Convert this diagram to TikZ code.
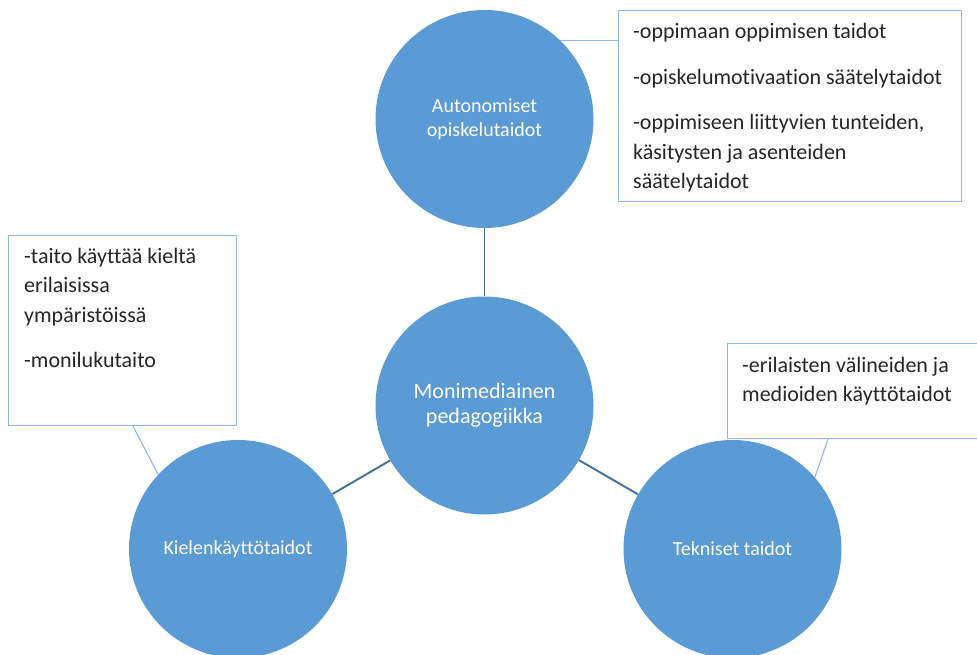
\documentclass[tikz,border=0pt]{standalone}
\usepackage{fontspec}
\setmainfont{Carlito}[Ligatures={NoCommon}]
\usetikzlibrary{calc}
\definecolor{skillfill}{HTML}{5B9BD5}
\definecolor{linkline}{HTML}{41719C}
\definecolor{calloutline}{HTML}{8DB9E3}
\definecolor{bodytext}{HTML}{262626}
\tikzset{
  skill/.style={circle, fill=skillfill, draw=none, minimum size=218pt, inner sep=0pt,
    text=white, align=center, font=\fontsize{20}{24}\selectfont},
  link/.style={draw=linkline, line width=1.9pt},
  notebox/.style={draw=calloutline, line width=1.1pt, fill=white, anchor=north west, inner sep=0pt},
  notetext/.style={anchor=north west, inner sep=0pt, align=left, text=bodytext,
    font=\fontsize{22}{29.5}\selectfont},
  callout/.style={draw=calloutline, line width=1.1pt}
}
\begin{document}
\begin{tikzpicture}[x=1pt, y=-1pt]
  \useasboundingbox (0,0) rectangle (977,655);
  \clip (0,0) rectangle (977,655);
  \fill[white] (0,0) rectangle (977,655);

  % skill circles
  \node[skill] (auto) at (484.5,119) {Autonomiset\\opiskelutaidot};
  \node[skill, font=\fontsize{22}{25}\selectfont] (mono) at (484.5,405.5) {Monimediainen\\pedagogiikka};
  \node[skill] (kieli) at (238,549) {Kielenkäyttötaidot};
  \node[skill] (tekn) at (732.5,549) {Tekniset taidot};

  % links between the centre and the three skills
  \draw[link] (mono) -- (auto);
  \draw[link] (mono) -- (kieli);
  \draw[link] (mono) -- (tekn);

  % note boxes
  \node[notebox, minimum width=343pt, minimum height=191pt] (boxauto) at (618,10) {};
  \node[notebox, minimum width=228pt, minimum height=190pt] (boxkieli) at (8,235) {};
  \node[notebox, minimum width=280pt, minimum height=95pt] (boxtekn) at (727,343) {};

  % note texts
  \node[notetext] (txtauto) at (633,23.5) {-oppimaan oppimisen taidot\\[16pt]
    -opiskelumotivaation säätelytaidot\\[16pt]
    -oppimiseen liittyvien tunteiden,\\
    käsitysten ja asenteiden\\
    säätelytaidot};
  \node[notetext] (txtkieli) at (24,248) {-taito käyttää kieltä\\
    erilaisissa\\
    ympäristöissä\\[16pt]
    -monilukutaito};
  \node[notetext] (txttekn) at (742,357) {-erilaisten välineiden ja\\
    medioiden käyttötaidot};

  % callout lines from circles to their notes
  \draw[callout] (auto.46) -- (auto.46 -| boxauto.west);
  \draw[callout] (kieli.137) -- ($(boxkieli.south west)+(125,0)$);
  \draw[callout] (tekn.41) -- ($(boxtekn.south west)+(101,0)$);
\end{tikzpicture}
\end{document}
